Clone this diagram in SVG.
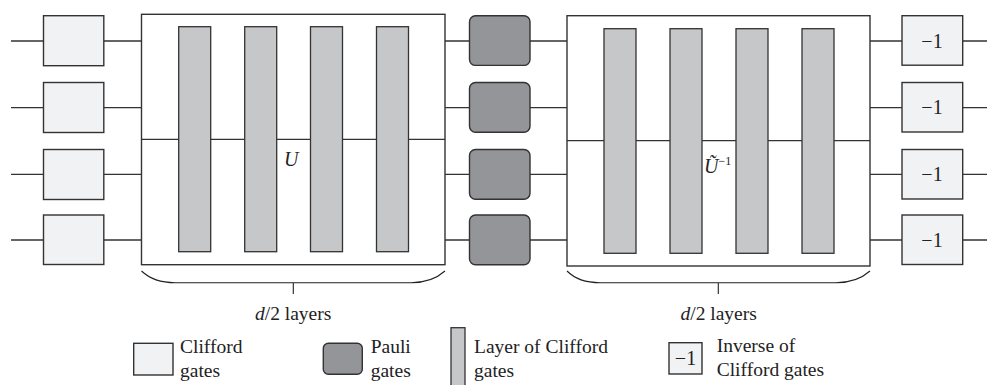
<svg xmlns="http://www.w3.org/2000/svg" width="987" height="385" viewBox="0 0 987 385">
<style>
.w{stroke:#333;stroke-width:1.3;fill:none}
.clf{fill:#f1f2f4;stroke:#333;stroke-width:1.4}
.pau{fill:#939598;stroke:#333;stroke-width:1.4}
.bar{fill:#c6c7c9;stroke:#333;stroke-width:1.3}
.big{fill:#fff;stroke:#333;stroke-width:1.4}
.br{stroke:#222;stroke-width:1.1;fill:none}
text{font-family:"Liberation Serif","Times New Roman",serif;fill:#222}
.t{font-size:19.5px}
.m{font-size:20px;text-anchor:middle}
</style>
<rect width="987" height="385" fill="#fff"/>
<g id="connectors">
<path class="w" d="M11,41H43.5M104,41H141.5M445,41H469.5M530,41H567M870,41H902M963,41H987"/>
<path class="w" d="M11,107.7H43.5M104,107.7H141.5M445,107.7H469.5M530,107.7H567M870,107.7H902M963,107.7H987"/>
<path class="w" d="M11,174.3H43.5M104,174.3H141.5M445,174.3H469.5M530,174.3H567M870,174.3H902M963,174.3H987"/>
<path class="w" d="M11,240H43.5M104,240H141.5M445,240H469.5M530,240H567M870,240H902M963,240H987"/>
</g>
<g id="clifford">
<rect class="clf" x="43.5" y="15.7" width="60.3" height="50"/>
<rect class="clf" x="43.5" y="82.5" width="60.3" height="50"/>
<rect class="clf" x="43.5" y="149.5" width="60.3" height="50"/>
<rect class="clf" x="43.5" y="215" width="60.3" height="49.5"/>
</g>
<g id="U-block">
<rect class="big" x="141.5" y="14.3" width="303.5" height="250.4"/>
<line class="w" x1="141.5" y1="139.3" x2="445" y2="139.3"/>
<rect class="bar" x="178.7" y="26.7" width="32" height="225"/>
<rect class="bar" x="244.7" y="26.7" width="32" height="225"/>
<rect class="bar" x="310.5" y="26.7" width="32" height="225"/>
<rect class="bar" x="376.5" y="26.7" width="32" height="225"/>
<text x="284" y="166" font-size="20" font-style="italic">U</text>
</g>
<g id="pauli">
<rect class="pau" x="469.5" y="15.7" width="60.5" height="49.7" rx="6"/>
<rect class="pau" x="469.5" y="82.5" width="60.5" height="49.7" rx="6"/>
<rect class="pau" x="469.5" y="149.5" width="60.5" height="49.7" rx="6"/>
<rect class="pau" x="469.5" y="215" width="60.5" height="49.7" rx="6"/>
</g>
<g id="Uinv-block">
<rect class="big" x="567" y="15.7" width="303" height="250.3"/>
<line class="w" x1="567" y1="140.7" x2="870" y2="140.7"/>
<rect class="bar" x="604" y="28.7" width="32" height="224.6"/>
<rect class="bar" x="670" y="28.7" width="32" height="224.6"/>
<rect class="bar" x="736" y="28.7" width="32" height="224.6"/>
<rect class="bar" x="802" y="28.7" width="32" height="224.6"/>
<text x="704" y="173" font-size="20" font-style="italic">Ũ<tspan font-size="12" font-style="normal" dy="-8">−1</tspan></text>
</g>
<g id="inverse">
<rect class="clf" x="902" y="15.7" width="60.7" height="49.5"/>
<rect class="clf" x="902" y="82.5" width="60.7" height="49.5"/>
<rect class="clf" x="902" y="149.5" width="60.7" height="49.5"/>
<rect class="clf" x="902" y="215" width="60.7" height="49.5"/>
<text class="m" x="932" y="47.5">−1</text>
<text class="m" x="932" y="114">−1</text>
<text class="m" x="932" y="181">−1</text>
<text class="m" x="932" y="246.5">−1</text>
</g>
<g id="braces">
<path class="br" d="M141.5,271C150,279 160,282.7 175,282.7H411C426,282.7 436,279 445,271M293.3,282.7V294"/>
<path class="br" d="M567,271C575,279 585,282.7 600,282.7H836C851,282.7 861,279 870,271M718.3,282.7V294"/>
<text class="t" x="255" y="319.5"><tspan font-style="italic">d</tspan>/2 layers</text>
<text class="t" x="680.5" y="319.5"><tspan font-style="italic">d</tspan>/2 layers</text>
</g>
<g id="legend">
<rect class="clf" x="133.7" y="343.3" width="39.3" height="31.7"/>
<text class="t" x="180" y="353.3">Clifford</text>
<text class="t" x="180" y="376.5">gates</text>
<rect class="pau" x="323.3" y="343.3" width="39" height="31" rx="5"/>
<text class="t" x="370.7" y="353.3">Pauli</text>
<text class="t" x="370.7" y="376.5">gates</text>
<rect class="bar" x="451" y="327.7" width="14" height="62"/>
<text class="t" x="474" y="353.3">Layer of Clifford</text>
<text class="t" x="474" y="376.5">gates</text>
<rect class="clf" x="669" y="342.7" width="33" height="31.3"/>
<text class="m" x="685.5" y="365" font-size="18">−1</text>
<text class="t" x="716.7" y="352.3">Inverse of</text>
<text class="t" x="716.7" y="375.5">Clifford gates</text>
</g>
</svg>
